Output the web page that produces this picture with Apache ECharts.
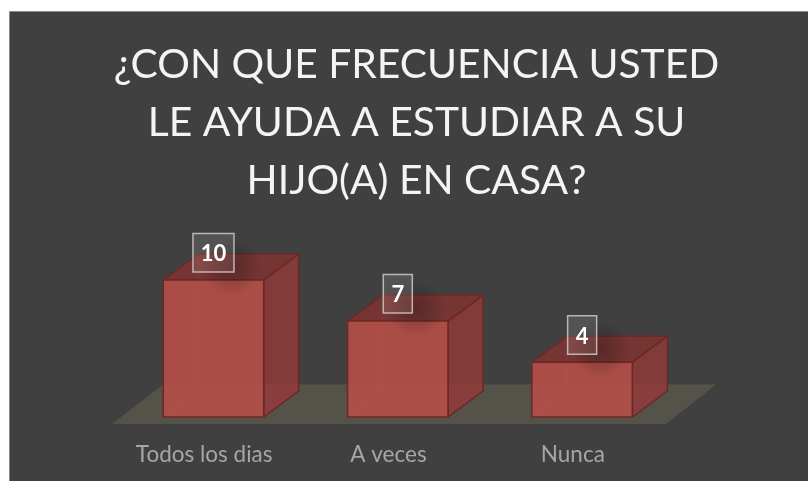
<!DOCTYPE html>
<html><head><meta charset="utf-8">
<style>html,body{margin:0;padding:0;background:#fff}#c{width:808px;height:481px}</style>
<script src="https://cdn.jsdelivr.net/npm/echarts@6/dist/echarts.min.js"></script>
</head><body><div id="c"></div>
<script>
const categories = ['Todos los dias', 'A veces', 'Nunca'];
const values = [10, 7, 4];
const titleText = '¿CON QUE FRECUENCIA USTED\nLE AYUDA A ESTUDIAR A SU\nHIJO(A) EN CASA?';

const DX = 35, DY = 26, SHIFT = 9.3;
const edge = '#6c2825';
const chart = echarts.init(document.getElementById('c'), null, {renderer:'canvas'});

function renderFloor(params) {
  const g = params.coordSys;
  const b = g.y + g.height;
  return {type:'polygon', silent:true, shape:{points:[
    [g.x, b+7],[g.x+g.width+1, b+7],[g.x+g.width+51, b-32.5],[g.x+51, b-32.5]
  ]}, style:{fill:'#55524a'}};
}
function renderBar(params, api) {
  const p = api.coord([api.value(0), api.value(1)]);
  const p0 = api.coord([api.value(0), 0]);
  const w = api.size([1,0])[0]*0.545;
  const l = p[0]+SHIFT-w/2, r = l+w, t = p[1], b = p0[1];
  const val = api.value(1);
  const poly = (pts, fill, stroke, lw) => ({type:'polygon', shape:{points:pts},
    style:{fill, stroke, lineWidth:lw, lineJoin:'round'}});
  const line = (a, c) => ({type:'line', shape:{x1:a[0],y1:a[1],x2:c[0],y2:c[1]},
    style:{stroke:'#a8403c', lineWidth:1}});
  const cx = (l+r)/2;
  const boxW = String(val).length > 1 ? 41 : 29, boxH = 38.5;
  const boxB = t-8, boxT = boxB-boxH;
  return {type:'group', children:[
    line([l,b],[l+DX,b-DY]),
    line([l+DX,b-DY],[r+DX,b-DY]),
    line([l+DX,b-DY],[l+DX,t-DY]),
    poly([[r,b],[r+DX,b-DY],[r+DX,t-DY],[r,t]], 'rgba(148,58,56,0.8)', edge, 1.5),
    poly([[l,t],[r,t],[r+DX,t-DY],[l+DX,t-DY]], 'rgba(130,50,46,0.8)', edge, 1.5),
    poly([[l,b],[r,b],[r,t],[l,t]], 'rgba(184,78,72,0.88)', edge, 1.5),
    {type:'rect', shape:{x:cx-boxW/2-2, y:boxT+4, width:boxW+40, height:boxH+20},
      style:{fill:{type:'radial',x:0.5,y:0.5,r:0.5,colorStops:[
        {offset:0,color:'rgba(0,0,0,0.24)'},{offset:0.6,color:'rgba(0,0,0,0.11)'},{offset:1,color:'rgba(0,0,0,0)'}]}}},
    {type:'rect', shape:{x:cx-boxW/2, y:boxT, width:boxW, height:boxH},
      style:{fill:'rgba(255,255,255,0.10)', stroke:'#bdb5b4', lineWidth:1.5}},
    {type:'text', style:{x:cx, y:boxT+boxH/2+1.5, text:String(val), fill:'#ffffff',
      font:'bold 22px Lato', align:'center', verticalAlign:'middle'}}
  ]};
}

chart.setOption({
  animation:false,
  backgroundColor:'#ffffff',
  title:{text:titleText, left:411.5, top:31, textAlign:'center',
    textStyle:{color:'#f4f4f4', fontFamily:'Lato', fontWeight:'normal', fontSize:40.8, lineHeight:58}},
  graphic:[{type:'rect', z:-1, silent:true, shape:{x:9.5,y:11.5,width:800,height:471},
    style:{fill:'#404040', stroke:'#8a8a8a', lineWidth:1}}],
  grid:{left:112, width:553, top:280, height:137, containLabel:false},
  xAxis:{type:'category', data:categories, axisLine:{show:false}, axisTick:{show:false},
    axisLabel:{color:'#a6a6a6', fontFamily:'Lato', fontSize:22.5, margin:26}},
  yAxis:{type:'value', min:0, max:10, interval:5, show:false},
  series:[
    {type:'custom', coordinateSystem:'cartesian2d', clip:false, z:1, renderItem:renderFloor, data:[[0,0]], silent:true},
    {type:'custom', coordinateSystem:'cartesian2d', clip:false, z:2, renderItem:renderBar,
      encode:{x:0,y:1}, data:categories.map((c,i)=>[i,values[i]])}
  ]
});
</script></body></html>
